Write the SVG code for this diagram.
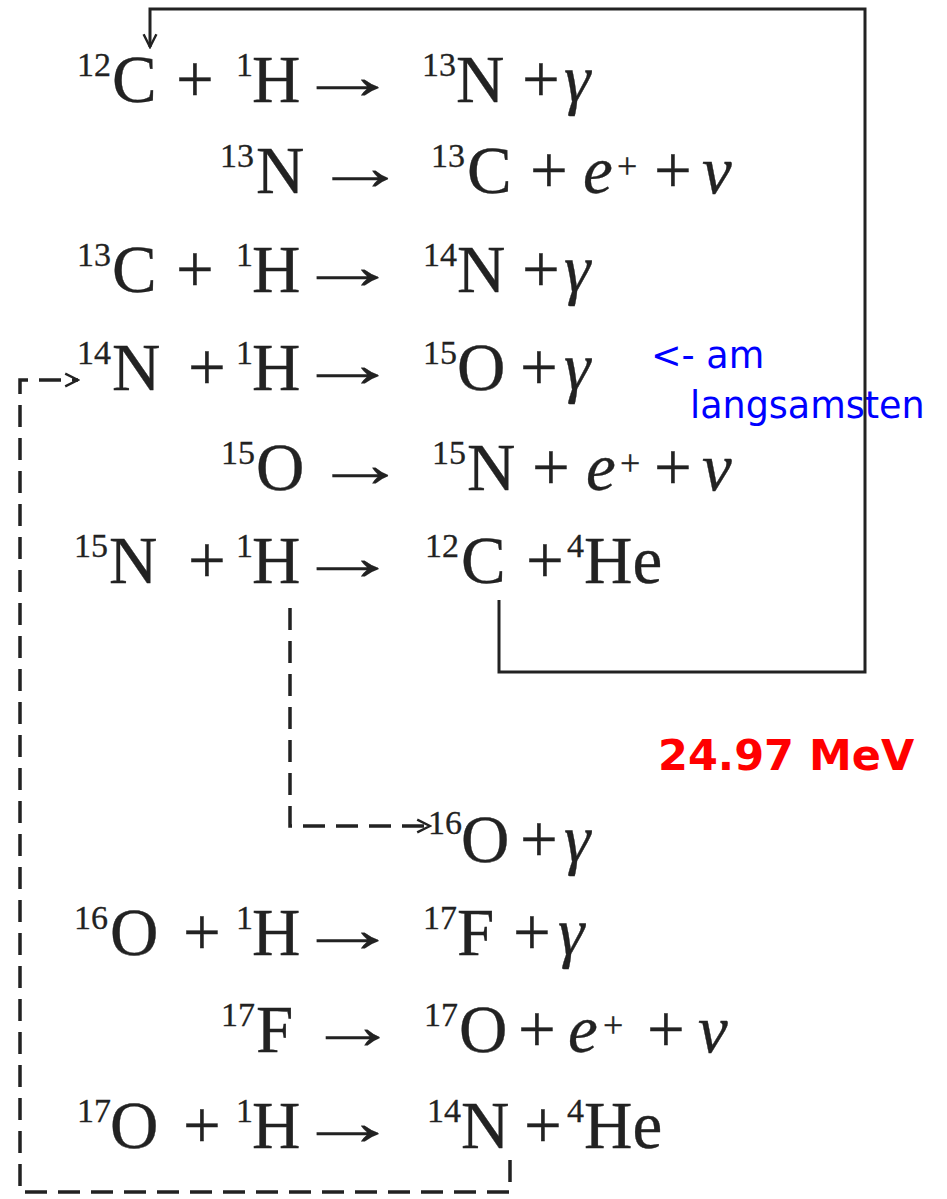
<svg xmlns="http://www.w3.org/2000/svg" width="947" height="1199" viewBox="0 0 947 1199">
  <style>
    text { font-family: "Liberation Serif", "Times New Roman", serif; fill: #222; }
    .m { font-size: 67px; stroke: #222; stroke-width: 0.35; }
    .s { font-size: 34px; stroke: #222; stroke-width: 0.3; }
    .i { font-style: italic; }
    .sp { font-size: 36px; stroke: #222; stroke-width: 0.3; }
    .ar { font-size: 67px; text-anchor: middle; stroke: #222; stroke-width: 0.2; }
    .lbl { font-family: "DejaVu Sans", Verdana, sans-serif; font-size: 36.5px; fill: #0000ff; stroke: none; }
    .mev { font-family: "DejaVu Sans", Verdana, sans-serif; font-size: 43px; font-weight: bold; fill: #ff0000; stroke: none; }
    .wire { fill: none; stroke: #222; stroke-width: 3; }
    .dash { fill: none; stroke: #222; stroke-width: 3.5; stroke-dasharray: 22 11; }
  </style>
  <defs>
    <marker id="head" viewBox="0 0 20 20" refX="18" refY="10" markerWidth="16" markerHeight="16" markerUnits="userSpaceOnUse" orient="auto">
      <path d="M2 2 L18 10 L2 18" fill="none" stroke="#222" stroke-width="3"/>
    </marker>
  </defs>

  <rect width="947" height="1199" fill="#fff"/>

  <!-- CNO cycle reactions -->
  <g id="r1">
    <text class="s" x="77" y="76">12</text><text class="m" x="112" y="102">C</text>
    <text class="m" x="176" y="102">+</text>
    <text class="s" x="236" y="76">1</text><text class="m" x="252" y="102">H</text>
    <text class="ar" transform="translate(348,99) scale(1.55,1)">→</text>
    <text class="s" x="422" y="76">13</text><text class="m" x="456" y="102">N</text>
    <text class="m" x="522" y="102">+</text>
    <text class="m i" x="564" y="102">γ</text>
  </g>
  <g id="r2">
    <text class="s" x="220" y="167">13</text><text class="m" x="256" y="193">N</text>
    <text class="ar" transform="translate(360,190) scale(1.4,1)">→</text>
    <text class="s" x="431" y="167">13</text><text class="m" x="467" y="193">C</text>
    <text class="m" x="530" y="193">+</text>
    <text class="m i" x="583" y="193">e</text><text class="sp" x="617" y="178">+</text>
    <text class="m" x="654" y="193">+</text>
    <text class="m i" x="702" y="193">ν</text>
  </g>
  <g id="r3">
    <text class="s" x="77" y="266">13</text><text class="m" x="112" y="292">C</text>
    <text class="m" x="176" y="292">+</text>
    <text class="s" x="236" y="266">1</text><text class="m" x="252" y="292">H</text>
    <text class="ar" transform="translate(348,289) scale(1.55,1)">→</text>
    <text class="s" x="423" y="266">14</text><text class="m" x="457" y="292">N</text>
    <text class="m" x="522" y="292">+</text>
    <text class="m i" x="564" y="292">γ</text>
  </g>
  <g id="r4">
    <text class="s" x="77" y="364">14</text><text class="m" x="112" y="390">N</text>
    <text class="m" x="188" y="390">+</text>
    <text class="s" x="236" y="364">1</text><text class="m" x="252" y="390">H</text>
    <text class="ar" transform="translate(348,387) scale(1.55,1)">→</text>
    <text class="s" x="423" y="364">15</text><text class="m" x="457" y="390">O</text>
    <text class="m" x="520" y="390">+</text>
    <text class="m i" x="564" y="390">γ</text>
  </g>
  <g id="r5">
    <text class="s" x="221" y="464">15</text><text class="m" x="256" y="490">O</text>
    <text class="ar" transform="translate(360,487) scale(1.4,1)">→</text>
    <text class="s" x="432" y="464">15</text><text class="m" x="467" y="490">N</text>
    <text class="m" x="532" y="490">+</text>
    <text class="m i" x="586" y="490">e</text><text class="sp" x="620" y="475">+</text>
    <text class="m" x="654" y="490">+</text>
    <text class="m i" x="702" y="490">ν</text>
  </g>
  <g id="r6">
    <text class="s" x="74" y="557">15</text><text class="m" x="109" y="583">N</text>
    <text class="m" x="188" y="583">+</text>
    <text class="s" x="236" y="557">1</text><text class="m" x="252" y="583">H</text>
    <text class="ar" transform="translate(348,580) scale(1.55,1)">→</text>
    <text class="s" x="425" y="557">12</text><text class="m" x="461" y="583">C</text>
    <text class="m" x="526" y="583">+</text>
    <text class="s" x="567" y="557">4</text><text class="m" x="584" y="583">He</text>
  </g>
  <g id="r7">
    <text class="s" x="428" y="834">16</text><text class="m" x="461" y="862">O</text>
    <text class="m" x="520" y="862">+</text>
    <text class="m i" x="564" y="862">γ</text>
  </g>
  <g id="r8">
    <text class="s" x="74" y="929">16</text><text class="m" x="110" y="955">O</text>
    <text class="m" x="183" y="955">+</text>
    <text class="s" x="236" y="929">1</text><text class="m" x="252" y="955">H</text>
    <text class="ar" transform="translate(348,952) scale(1.55,1)">→</text>
    <text class="s" x="423" y="929">17</text><text class="m" x="457" y="955">F</text>
    <text class="m" x="513" y="955">+</text>
    <text class="m i" x="558" y="955">γ</text>
  </g>
  <g id="r9">
    <text class="s" x="221" y="1026">17</text><text class="m" x="256" y="1052">F</text>
    <text class="ar" transform="translate(353,1049) scale(1.35,1)">→</text>
    <text class="s" x="424" y="1026">17</text><text class="m" x="459" y="1052">O</text>
    <text class="m" x="518" y="1052">+</text>
    <text class="m i" x="568" y="1052">e</text><text class="sp" x="603" y="1037">+</text>
    <text class="m" x="647" y="1052">+</text>
    <text class="m i" x="698" y="1052">ν</text>
  </g>
  <g id="r10">
    <text class="s" x="77" y="1122">17</text><text class="m" x="110" y="1148">O</text>
    <text class="m" x="183" y="1148">+</text>
    <text class="s" x="236" y="1122">1</text><text class="m" x="252" y="1148">H</text>
    <text class="ar" transform="translate(348,1145) scale(1.55,1)">→</text>
    <text class="s" x="427" y="1122">14</text><text class="m" x="461" y="1148">N</text>
    <text class="m" x="524" y="1148">+</text>
    <text class="s" x="567" y="1122">4</text><text class="m" x="584" y="1148">He</text>
  </g>

  <!-- annotations -->
  <g id="note-slowest">
    <text class="lbl" x="651" y="368">&lt;- am</text>
    <text class="lbl" x="690" y="418">langsamsten</text>
  </g>
  <g id="note-energy">
    <text class="mev" x="658" y="770">24.97 MeV</text>
  </g>

  <!-- cycle connectors -->
  <g id="connectors">
    <path class="wire" d="M499 600 V672 H865 V9 H150 V47" marker-end="url(#head)"/>
    <path class="dash" d="M290 608 V826 H430" marker-end="url(#head)"/>
    <path class="dash" d="M510 1160 V1192 H20 V380 H78" marker-end="url(#head)"/>
  </g>
</svg>
